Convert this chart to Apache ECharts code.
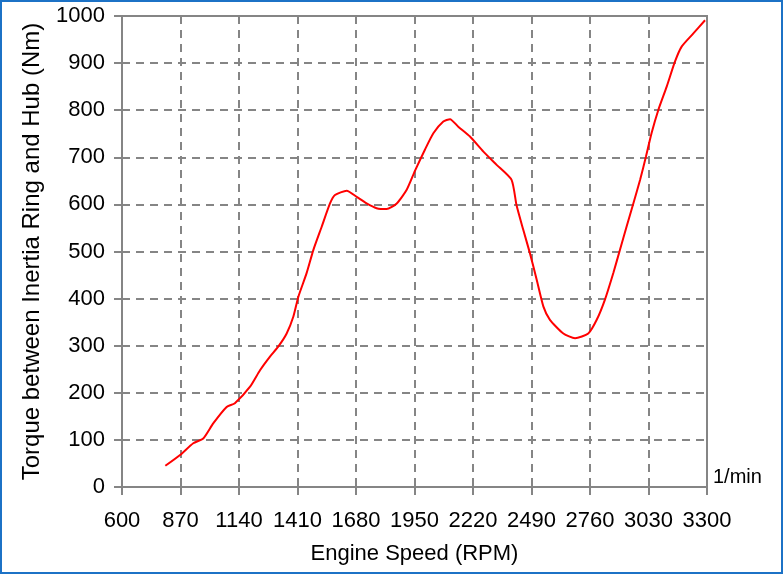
<!DOCTYPE html>
<html>
<head>
<meta charset="utf-8">
<script src="https://cdn.jsdelivr.net/npm/echarts@6/dist/echarts.min.js"></script>
<style>
  html, body { margin: 0; padding: 0; background: #fff; }
  #chart { width: 783px; height: 574px; position: absolute; left: 0; top: 0; }
  #frame { position: absolute; left: 0; top: 0; width: 783px; height: 574px; box-sizing: border-box; border: 2px solid #1c72c6; pointer-events: none; }
</style>
</head>
<body>
<div id="chart"></div>
<div id="frame"></div>
<script>
// Engine speed (RPM)
const rpm = [800, 868, 929, 975, 1021, 1083, 1121, 1191, 1237, 1283, 1321, 1360, 1391, 1414, 1452, 1483, 1522, 1560, 1583, 1637,
  1683, 1729, 1775, 1821, 1868, 1914, 1952, 1998, 2037, 2083, 2114, 2152, 2206, 2268, 2329, 2398, 2421, 2452, 2483, 2514,
  2545, 2575, 2637, 2691, 2752, 2791, 2829, 2868, 2898, 2929, 2960, 2991, 3018, 3044, 3075, 3114, 3152, 3183, 3237, 3291];
// Torque between inertia ring and hub (Nm)
const torque = [45, 68, 93, 103, 135, 170, 178, 213, 248, 277, 298, 326, 362, 404, 454, 503, 553, 602, 620, 629,
  616, 602, 592, 590, 602, 631, 671, 716, 751, 776, 781, 765, 744, 712, 684, 652, 598, 546, 496, 440,
  383, 355, 326, 316, 326, 355, 398, 455, 503, 553, 602, 652, 701, 751, 800, 850, 903, 935, 963, 991];
// Tick labels
const xTicks = [600, 870, 1140, 1410, 1680, 1950, 2220, 2490, 2760, 3030, 3300];
const yTicks = [0, 100, 200, 300, 400, 500, 600, 700, 800, 900, 1000];

const X_MIN = xTicks[0];
const X_STEP = xTicks[1] - xTicks[0];
const X_SPAN = xTicks[xTicks.length - 1] - X_MIN;

const gray = '#858585';
const font = 'Liberation Sans, Arial, sans-serif';

const chart = echarts.init(document.getElementById('chart'), null, { renderer: 'canvas' });
chart.setOption({
  animation: false,
  backgroundColor: '#fff',
  grid: { left: 122, right: 76, top: 16, bottom: 87, show: true, borderColor: gray, borderWidth: 2, backgroundColor: 'transparent' },
  xAxis: [{
    type: 'value',
    min: 0, max: X_SPAN, interval: X_STEP,
    position: 'bottom',
    name: 'Engine Speed (RPM)',
    nameLocation: 'middle',
    nameGap: 56,
    nameTextStyle: { fontFamily: font, fontSize: 22, color: '#000' },
    axisLine: { show: true, onZero: false, lineStyle: { color: gray, width: 2 } },
    axisTick: { show: true, length: 8, lineStyle: { color: gray, width: 2 } },
    axisLabel: { margin: 23, fontFamily: font, fontSize: 22, color: '#000',
      formatter: v => String(v + X_MIN) },
    splitLine: { show: true, lineStyle: { color: gray, width: 2, type: [8, 6] } }
  }, {
    type: 'value',
    min: 0, max: X_SPAN,
    position: 'bottom',
    name: '1/min',
    nameLocation: 'end',
    nameGap: 6,
    nameTextStyle: { fontFamily: font, fontSize: 20, color: '#000', verticalAlign: 'bottom', align: 'left' },
    axisLine: { show: false }, axisTick: { show: false }, axisLabel: { show: false }, splitLine: { show: false }
  }],
  yAxis: {
    type: 'value',
    min: yTicks[0], max: yTicks[yTicks.length - 1], interval: yTicks[1] - yTicks[0],
    name: 'Torque between Inertia Ring and Hub (Nm)',
    nameLocation: 'middle',
    nameRotate: 90,
    nameGap: 78,
    nameTextStyle: { fontFamily: font, fontSize: 24, color: '#000' },
    axisLine: { show: true, lineStyle: { color: gray, width: 2 } },
    axisTick: { show: true, length: 8, lineStyle: { color: gray, width: 2 } },
    axisLabel: { margin: 17, fontFamily: font, fontSize: 22, color: '#000',
      formatter: v => String(v) },
    splitLine: { show: true, lineStyle: { color: gray, width: 2, type: [8, 6] } }
  },
  series: [{
    type: 'line',
    xAxisIndex: 0,
    data: rpm.map((r, i) => [r - X_MIN, torque[i]]),
    showSymbol: false,
    symbol: 'none',
    smooth: 0.2,
    lineStyle: { color: '#ff0000', width: 2 },
    itemStyle: { color: '#ff0000' },
    z: 5
  }]
});
</script>
</body>
</html>
